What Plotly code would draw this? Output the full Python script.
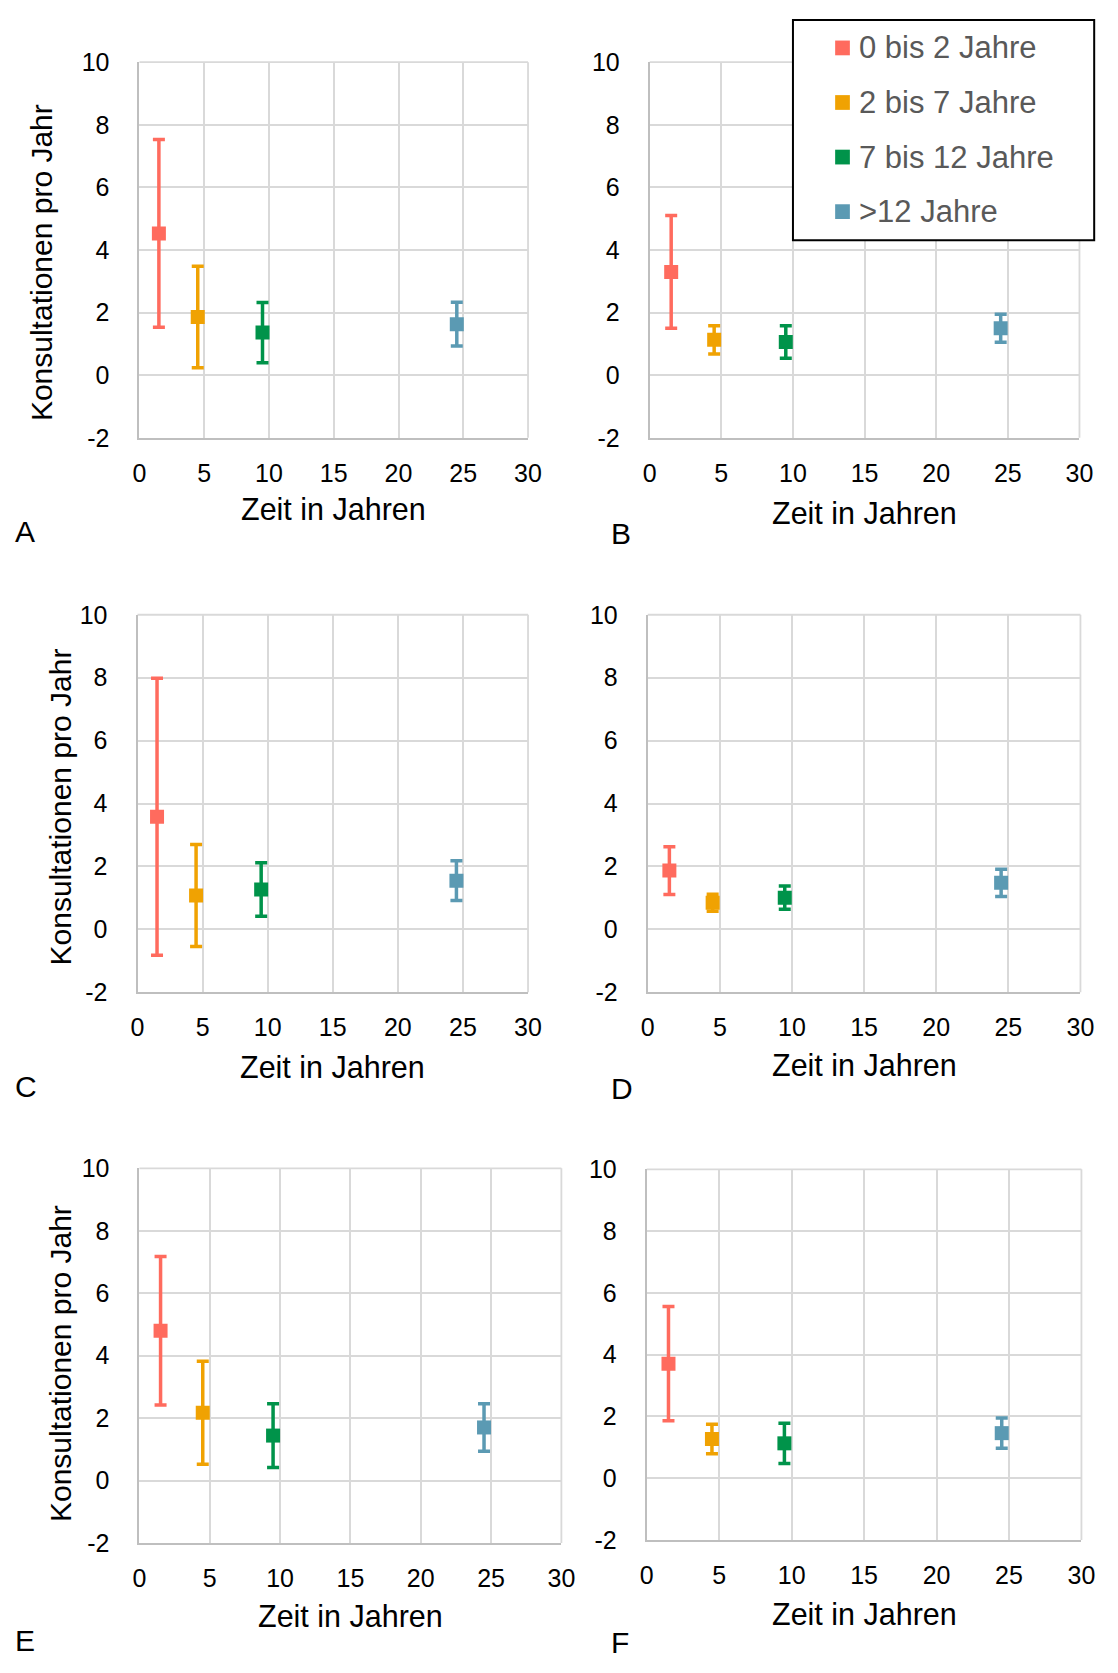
import plotly.graph_objects as go

W, H = 1118, 1673
FONT = "Liberation Sans, Arial, sans-serif"

# Age groups, their x position on the time axis and colours
ages = ["0 bis 2 Jahre", "2 bis 7 Jahre", "7 bis 12 Jahre", ">12 Jahre"]
years = [1.5, 4.5, 9.5, 24.5]
colors = ["#FF6B5E", "#F0A202", "#00934A", "#5B9AB3"]

# Consultations per year (mean) and error bar half-lengths per panel
mean_a = [4.53, 1.86, 1.36, 1.63]
err_a = [3.00, 1.62, 0.96, 0.70]
mean_b = [3.30, 1.13, 1.06, 1.50]
err_b = [1.80, 0.45, 0.52, 0.45]
mean_c = [3.58, 1.08, 1.27, 1.55]
err_c = [4.40, 1.62, 0.85, 0.63]
mean_d = [1.87, 0.85, 1.01, 1.48]
err_d = [0.76, 0.27, 0.37, 0.43]
mean_e = [4.80, 2.17, 1.44, 1.70]
err_e = [2.38, 1.65, 1.02, 0.76]
mean_f = [3.71, 1.27, 1.13, 1.46]
err_f = [1.85, 0.48, 0.65, 0.49]

# Tick labels (plain hyphen for negatives)
x_tick_vals = [0, 5, 10, 15, 20, 25, 30]
x_tick_text = ["0", "5", "10", "15", "20", "25", "30"]
y_tick_vals = [-2, 0, 2, 4, 6, 8, 10]
y_tick_text = ["-2", "0", "2", "4", "6", "8", "10"]

panel_letters = ["A", "B", "C", "D", "E", "F"]
panel_means = [mean_a, mean_b, mean_c, mean_d, mean_e, mean_f]
panel_errs = [err_a, err_b, err_c, err_d, err_e, err_f]

x_title = "Zeit in Jahren"
y_title = "Konsultationen pro Jahr"

# plot boxes in pixels: left, right, top, bottom
boxes = [
    (135, 531, 49, 431),
    (655, 1093, 49, 431),
    (133, 531, 611, 995),
    (653, 1094, 611, 995),
    (135, 565, 1174, 1555),
    (652, 1095, 1175, 1552),
]
# x-title centre y, y-title centre (x, y) or None, letter centre (x, y)
x_title_y = [503, 507, 1071, 1069, 1629, 1627]
y_title_pos = [(35, 253), None, (55, 806), None, (54, 1372), None]
letter_pos = [(18, 526), (626, 528), (19, 1091), (627, 1093), (18, 1654), (625, 1656)]


def px(x):
    return x / W


def py(y):
    return 1 - y / H


fig = go.Figure()
layout = {}
annotations = []
shapes = []

for i, (means, errs) in enumerate(zip(panel_means, panel_errs)):
    n = i + 1
    xa = "x" if n == 1 else f"x{n}"
    ya = "y" if n == 1 else f"y{n}"
    for age, xv, m, e, c in zip(ages, years, means, errs, colors):
        fig.add_trace(go.Scatter(
            x=[xv], y=[m], mode="markers", name=age, showlegend=False,
            xaxis=xa, yaxis=ya,
            marker=dict(symbol="square", size=14, color=c, line=dict(width=0)),
            error_y=dict(type="data", array=[e], visible=True, color=c,
                         thickness=3.5, width=6),
        ))
    l, r, t, b = boxes[i]
    axis_common = dict(
        showgrid=True, gridcolor="#D9D9D9", gridwidth=1.8,
        showline=True, linecolor="#BFBFBF", linewidth=2,
        zeroline=False, ticks="", tickmode="array",
        tickfont=dict(family=FONT, size=25, color="#000000"),
        fixedrange=True,
    )
    layout[f"xaxis{'' if n == 1 else n}"] = dict(
        axis_common, domain=[px(l), px(r)], anchor=ya,
        range=[0, 30], tickvals=x_tick_vals, ticktext=x_tick_text,
        ticklabelstandoff=12,
    )
    layout[f"yaxis{'' if n == 1 else n}"] = dict(
        axis_common, domain=[py(b), py(t)], anchor=xa,
        range=[-2, 10], tickvals=y_tick_vals, ticktext=y_tick_text,
        ticklabelstandoff=23,
    )
    # top and right borders in grid colour
    shapes.append(dict(type="line", xref=f"{xa} domain", yref=f"{ya} domain",
                       x0=0, x1=1, y0=1, y1=1,
                       line=dict(color="#D9D9D9", width=1.8), layer="below"))
    shapes.append(dict(type="line", xref=f"{xa} domain", yref=f"{ya} domain",
                       x0=1, x1=1, y0=0, y1=1,
                       line=dict(color="#D9D9D9", width=1.8), layer="below"))

    annotations.append(dict(
        text=x_title, x=px((l + r) / 2), y=py(x_title_y[i]),
        xref="paper", yref="paper", xanchor="center", yanchor="middle",
        showarrow=False, font=dict(family=FONT, size=30.5, color="#000000"),
    ))
    if y_title_pos[i] is not None:
        yx, yy = y_title_pos[i]
        annotations.append(dict(
            text=y_title, x=px(yx), y=py(yy), textangle=-90,
            xref="paper", yref="paper", xanchor="center", yanchor="middle",
            showarrow=False, font=dict(family=FONT, size=30, color="#000000"),
        ))
    lx, ly = letter_pos[i]
    annotations.append(dict(
        text=panel_letters[i], x=px(lx), y=py(ly),
        xref="paper", yref="paper", xanchor="center", yanchor="middle",
        showarrow=False, font=dict(family=FONT, size=30, color="#000000"),
    ))

# legend box drawn over panel B
shapes.append(dict(type="rect", xref="paper", yref="paper",
                   x0=px(801), x1=px(1108), y0=py(230), y1=py(6),
                   line=dict(color="#000000", width=2), fillcolor="#FFFFFF",
                   layer="above"))
legend_rows = [34.5, 90, 145.5, 201]
for age, c, ry in zip(ages, colors, legend_rows):
    shapes.append(dict(type="rect", xref="paper", yref="paper",
                       x0=px(844), x1=px(859), y0=py(ry + 7.5), y1=py(ry - 7.5),
                       line=dict(width=0), fillcolor=c, layer="above"))
    annotations.append(dict(
        text=age, x=px(866), y=py(ry), xref="paper", yref="paper",
        xanchor="left", yanchor="middle", showarrow=False,
        font=dict(family=FONT, size=31, color="#595959"),
    ))

fig.update_layout(
    width=W, height=H,
    margin=dict(l=0, r=0, t=0, b=0),
    paper_bgcolor="#FFFFFF", plot_bgcolor="#FFFFFF",
    showlegend=False,
    annotations=annotations, shapes=shapes,
    **layout,
)

fig.write_html("out.html")
